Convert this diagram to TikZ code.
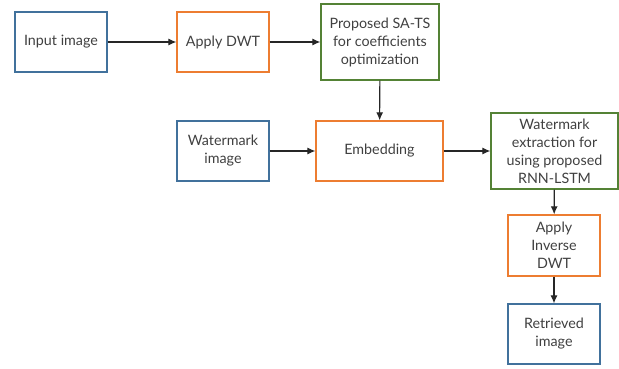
\documentclass[tikz,border=0pt]{standalone}
\usepackage{fontspec}
\setmainfont{Lato}
\usetikzlibrary{arrows.meta}
\definecolor{bblue}{HTML}{41719C}
\definecolor{borange}{HTML}{ED7D31}
\definecolor{bgreen}{HTML}{548235}
\definecolor{txt}{HTML}{404040}
\begin{document}
\begin{tikzpicture}[x=1pt,y=-1pt,
  box/.style={draw, line width=1.3pt, fill=white, text=txt, align=center, inner sep=1pt,
    font=\fontsize{14.3}{18}\selectfont, minimum width=#1},
  bluebox/.style={box=92pt, draw=bblue, minimum height=60pt},
  orangebox/.style={box=92pt, draw=borange, minimum height=60pt},
  greenbox/.style={box=118pt, draw=bgreen, minimum height=76pt},
  conn/.style={draw=black!85, line width=1.1pt, -{Latex[length=8pt,width=7pt]}}]
\useasboundingbox (0,0) rectangle (619,368);
\node[bluebox] (input) at (61,42) {Input image};
\node[orangebox] (dwt) at (223,42) {Apply DWT};
\node[greenbox] (sats) at (380,42) {Proposed SA-TS\\for coefficients\\optimization};
\node[bluebox] (wm) at (223,151) {Watermark\\image};
\node[orangebox, minimum width=127pt] (emb) at (379.5,151) {Embedding};
\node[greenbox, minimum width=127pt] (ext) at (554.5,151) {Watermark\\extraction for\\using proposed\\RNN-LSTM};
\node[orangebox, minimum height=61pt] (inv) at (554,245.5) {Apply\\Inverse\\DWT};
\node[bluebox] (ret) at (554,334) {Retrieved\\image};
\draw[conn] (input) -- (dwt);
\draw[conn] (dwt) -- (sats);
\draw[conn] (sats) -- (emb);
\draw[conn] (wm) -- (emb);
\draw[conn] (emb) -- (ext);
\draw[conn] (ext) -- (inv);
\draw[conn] (inv) -- (ret);
\end{tikzpicture}
\end{document}
